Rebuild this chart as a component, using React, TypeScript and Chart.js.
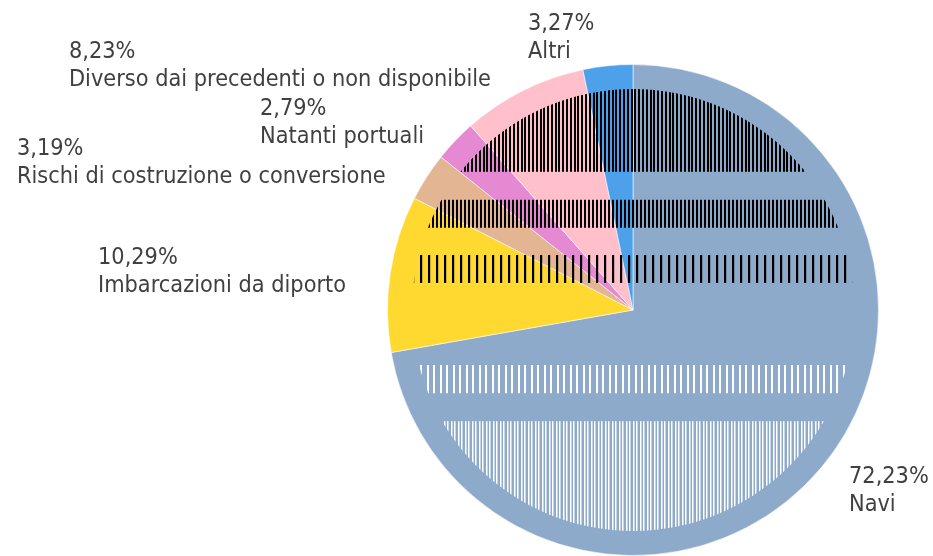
import React, { useEffect, useRef } from "react";
import { Chart, registerables } from "chart.js";

Chart.register(...registerables);

// ---- data ----
const categories = [
  "Navi",
  "Imbarcazioni da diporto",
  "Rischi di costruzione o conversione",
  "Natanti portuali",
  "Diverso dai precedenti o non disponibile",
  "Altri",
];
const shares = [72.23, 10.29, 3.19, 2.79, 8.23, 3.27];
const percentLabels = ["72,23%", "10,29%", "3,19%", "2,79%", "8,23%", "3,27%"];

// ---- styles / layout ----
const sliceColors = ["#8eaacb", "#ffd92f", "#e3b592", "#e589d2", "#ffbfcb", "#4da1ea"];
// label anchor (left x, first baseline) as offsets from the pie centre, px
const labelOffsets: [number, number][] = [
  [216, 173],
  [-535, -46.5],
  [-616, -155],
  [-373, -195.5],
  [-564, -252.5],
  [-105, -280],
];
const LINE_GAP = 28;
const FONT_PX = 23;
const FONT_SCALE_X = 0.91;
const TEXT_COLOR = "#404040";

// decorative stripe bands (fractions of the radius, relative to centre)
const stripeBands = [
  { y0: -0.902, y1: -0.563, color: "#000000", period: 3.8, width: 2 },
  { y0: -0.449, y1: -0.335, color: "#000000", period: 4, width: 2 },
  { y0: -0.224, y1: -0.11, color: "#000000", period: 8, width: 2.2 },
  { y0: 0.224, y1: 0.339, color: "#ffffff", period: 6.5, width: 2 },
  { y0: 0.453, y1: 0.906, color: "#ffffff", period: 3.5, width: 1.5 },
];
const STRIPE_RADIUS = 0.9;

const stripePlugin = {
  id: "stripes",
  afterDatasetsDraw(chart: any) {
    const meta = chart.getDatasetMeta(0);
    const arc = meta.data[0];
    if (!arc) return;
    const { x: cx, y: cy, outerRadius: R } = arc.getProps(["x", "y", "outerRadius"], true);
    const ctx = chart.ctx;
    ctx.save();
    ctx.beginPath();
    ctx.arc(cx, cy, R * STRIPE_RADIUS, 0, Math.PI * 2);
    ctx.clip();
    for (const b of stripeBands) {
      const top = cy + b.y0 * R;
      const h = (b.y1 - b.y0) * R;
      ctx.fillStyle = b.color;
      for (let x = cx - R; x < cx + R; x += b.period) {
        ctx.fillRect(Math.round(x), top, b.width, h);
      }
    }
    ctx.restore();
  },
};

const labelPlugin = {
  id: "outerLabels",
  afterDraw(chart: any) {
    const meta = chart.getDatasetMeta(0);
    const arc = meta.data[0];
    if (!arc) return;
    const { x: cx, y: cy } = arc.getProps(["x", "y"], true);
    const ctx = chart.ctx;
    ctx.save();
    ctx.fillStyle = TEXT_COLOR;
    ctx.font = `${FONT_PX}px "DejaVu Sans", sans-serif`;
    ctx.textAlign = "left";
    ctx.textBaseline = "alphabetic";
    categories.forEach((name, i) => {
      const [dx, dy] = labelOffsets[i];
      const lx = cx + dx;
      const ly = cy + dy;
      ctx.save();
      ctx.translate(lx, ly);
      ctx.scale(FONT_SCALE_X, 1);
      ctx.fillText(percentLabels[i], 0, 0);
      ctx.fillText(name, 0, LINE_GAP);
      ctx.restore();
    });
    ctx.restore();
  },
};

export default function App() {
  const ref = useRef<HTMLCanvasElement | null>(null);
  useEffect(() => {
    if (!ref.current) return;
    const chart = new Chart(ref.current, {
      type: "pie",
      data: {
        labels: categories,
        datasets: [
          {
            data: shares,
            backgroundColor: sliceColors,
            borderColor: "rgba(255,255,255,0.55)",
            borderWidth: 1,
          },
        ],
      },
      options: {
        responsive: false,
        animation: false,
        layout: { padding: { left: 387, right: 54, top: 64, bottom: 0 } },
        plugins: {
          legend: { display: false },
          tooltip: { enabled: false },
        },
      },
      plugins: [stripePlugin, labelPlugin],
    });
    return () => chart.destroy();
  }, []);
  return (
    <div style={{ position: "fixed", left: 0, top: 0, width: 933, height: 556, background: "#fff" }}>
      <canvas ref={ref} width={933} height={556} />
    </div>
  );
}
